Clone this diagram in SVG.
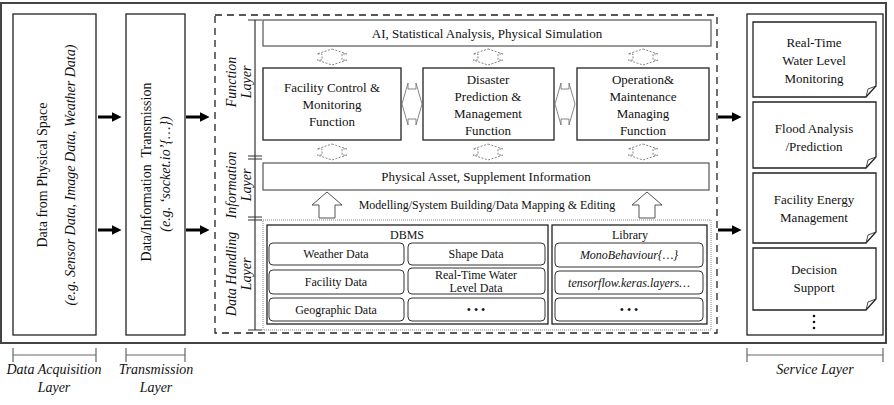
<svg xmlns="http://www.w3.org/2000/svg" width="894" height="405" viewBox="0 0 894 405">
<style>
text{font-family:"Liberation Serif","Times New Roman",serif;fill:#111;text-anchor:middle}
.t13{font-size:13px}
.t12{font-size:12px}
.t14{font-size:14px}
.it{font-style:italic}
.box{fill:#fff;stroke:#222;stroke-width:1.3}
.gbox{fill:#fff;stroke:#555;stroke-width:1.2}
.rr{fill:#fff;stroke:#333;stroke-width:1}
.dsh{fill:#fff;stroke:#777;stroke-width:0.9;stroke-dasharray:2 1.5}
.ha{fill:#fff;stroke:#777;stroke-width:0.9}
.big{fill:#fff;stroke:#555;stroke-width:1}
.arr{stroke:#000;stroke-width:3;fill:none;marker-end:url(#ah)}
.brk{stroke:#666;stroke-width:1.2;fill:none}
</style>
<defs>
<marker id="ah" markerWidth="4" markerHeight="4" refX="2" refY="2" orient="auto" markerUnits="strokeWidth">
<path d="M0,0.4 L3.2,2 L0,3.6 Z" fill="#000"/>
</marker>
<polygon id="vda" points="0,-8 15,-3 10,-3 10,3 15,3 0,8 -15,3 -10,3 -10,-3 -15,-3" class="dsh"/>
<polygon id="hda" points="-10,0 -4,-21 -4,-15 4,-15 4,-21 10,0 4,21 4,15 -4,15 -4,21" class="ha"/>
<polygon id="up" points="0,0 15,13 8,13 8,26 -8,26 -8,13 -15,13" class="big"/>
</defs>

<rect id="frame" x="1" y="3" width="885" height="340" fill="none" stroke="#444" stroke-width="2"/>

<g id="acq">
<rect x="13" y="14" width="83" height="321" class="box"/>
<text class="t14" transform="translate(47,175) rotate(-90)">Data from Physical Space</text>
<text class="t14 it" transform="translate(75,175) rotate(-90)">(e.g. Sensor Data, Image Data, Weather Data)</text>
</g>

<g id="trans">
<rect x="126" y="14" width="59" height="321" class="box"/>
<text class="t14" transform="translate(151,172) rotate(-90)" xml:space="preserve">Data/Information  Transmission</text>
<text class="t14 it" transform="translate(170,174) rotate(-90)">(e.g. ‘socket.io’{…})</text>
</g>

<g id="core">
<rect x="215" y="15" width="502" height="318" fill="none" stroke="#222" stroke-width="1.3" stroke-dasharray="7 5"/>
<g id="layer-bracket">
<line x1="255" y1="20" x2="255" y2="330" stroke="#333" stroke-width="1.2"/>
<line x1="248" y1="20" x2="262" y2="20" stroke="#333" stroke-width="1"/>
<line x1="248" y1="156" x2="262" y2="156" stroke="#333" stroke-width="1"/>
<line x1="248" y1="159" x2="262" y2="159" stroke="#333" stroke-width="1"/>
<line x1="248" y1="217" x2="262" y2="217" stroke="#333" stroke-width="1"/>
<line x1="248" y1="220" x2="262" y2="220" stroke="#333" stroke-width="1"/>
<line x1="248" y1="330" x2="262" y2="330" stroke="#333" stroke-width="1"/>
<text class="t14 it" transform="translate(236,82) rotate(-90)">Function</text>
<text class="t14 it" transform="translate(251,82) rotate(-90)">Layer</text>
<text class="t14 it" transform="translate(236,185) rotate(-90)">Information</text>
<text class="t14 it" transform="translate(251,185) rotate(-90)">Layer</text>
<text class="t14 it" transform="translate(236,274) rotate(-90)">Data Handling</text>
<text class="t14 it" transform="translate(251,274) rotate(-90)">Layer</text>
</g>

<g id="ai">
<rect x="263" y="20" width="448" height="26" class="gbox"/>
<text class="t13" x="487" y="38">AI, Statistical Analysis, Physical Simulation</text>
</g>
<g id="fn-facility">
<rect x="263" y="68" width="138" height="72" class="box"/>
<text class="t13" x="332" y="92">Facility Control &amp;</text>
<text class="t13" x="332" y="109">Monitoring</text>
<text class="t13" x="332" y="126">Function</text>
</g>
<g id="fn-disaster">
<rect x="423" y="68" width="131" height="72" class="box"/>
<text class="t13" x="488" y="84">Disaster</text>
<text class="t13" x="488" y="101">Prediction &amp;</text>
<text class="t13" x="488" y="118">Management</text>
<text class="t13" x="488" y="135">Function</text>
</g>
<g id="fn-om">
<rect x="577" y="68" width="132" height="72" class="box"/>
<text class="t13" x="643" y="84">Operation&amp;</text>
<text class="t13" x="643" y="101">Maintenance</text>
<text class="t13" x="643" y="118">Managing</text>
<text class="t13" x="643" y="135">Function</text>
</g>
<g id="asset">
<rect x="263" y="163" width="446" height="27" class="gbox"/>
<text class="t13" x="486" y="181">Physical Asset, Supplement Information</text>
</g>
<text class="t12" x="487" y="209">Modelling/System Building/Data Mapping &amp; Editing</text>

<g id="datahandling">
<rect x="263" y="220" width="448" height="110" fill="none" stroke="#888" stroke-width="1" stroke-dasharray="1 1"/>
<g id="dbms">
<rect x="267" y="225" width="281" height="99" class="box" stroke-width="1"/>
<text class="t12" x="407" y="239">DBMS</text>
<rect x="269" y="243" width="135" height="22" rx="4" class="rr"/>
<text class="t12" x="336" y="258">Weather Data</text>
<rect x="408" y="243" width="137" height="22" rx="4" class="rr"/>
<text class="t12" x="476" y="258">Shape Data</text>
<rect x="269" y="270" width="135" height="24" rx="4" class="rr"/>
<text class="t12" x="336" y="286">Facility Data</text>
<rect x="408" y="268" width="137" height="26" rx="4" class="rr"/>
<text class="t12" x="476" y="279">Real-Time Water</text>
<text class="t12" x="476" y="292">Level Data</text>
<rect x="269" y="298" width="135" height="23" rx="4" class="rr"/>
<text class="t12" x="336" y="314">Geographic Data</text>
<rect x="408" y="298" width="137" height="23" rx="4" class="rr"/>
<text class="t12" x="476" y="314">• • •</text>
</g>
<g id="library">
<rect x="552" y="225" width="155" height="99" class="box" stroke-width="1"/>
<text class="t12" x="630" y="239">Library</text>
<rect x="555" y="243" width="148" height="24" rx="4" class="rr"/>
<text class="t12 it" x="629" y="259">MonoBehaviour{…}</text>
<rect x="555" y="271" width="148" height="23" rx="4" class="rr"/>
<text class="t12 it" x="629" y="287">tensorflow.keras.layers…</text>
<rect x="555" y="298" width="148" height="23" rx="4" class="rr"/>
<text class="t12" x="629" y="314">• • •</text>
</g>
</g>
</g>

<g id="service">
<rect x="747" y="14" width="136" height="321" class="box"/>
<g id="svc1">
<path d="M753,22 H876 V86 L866,97 H753 Z" class="box" stroke-width="1"/>
<path d="M866,97 L868,89 L876,86" fill="none" stroke="#333" stroke-width="0.9"/>
<text class="t13" x="814" y="47">Real-Time</text>
<text class="t13" x="814" y="65">Water Level</text>
<text class="t13" x="814" y="83">Monitoring</text>
</g>
<g id="svc2">
<path d="M753,102 H876 V157 L866,168 H753 Z" class="box" stroke-width="1"/>
<path d="M866,168 L868,160 L876,157" fill="none" stroke="#333" stroke-width="0.9"/>
<text class="t13" x="814" y="133">Flood Analysis</text>
<text class="t13" x="814" y="151">/Prediction</text>
</g>
<g id="svc3">
<path d="M753,173 H876 V232 L866,243 H753 Z" class="box" stroke-width="1"/>
<path d="M866,243 L868,235 L876,232" fill="none" stroke="#333" stroke-width="0.9"/>
<text class="t13" x="814" y="204">Facility Energy</text>
<text class="t13" x="814" y="222">Management</text>
</g>
<g id="svc4">
<path d="M753,248 H876 V299 L866,310 H753 Z" class="box" stroke-width="1"/>
<path d="M866,310 L868,302 L876,299" fill="none" stroke="#333" stroke-width="0.9"/>
<text class="t13" x="814" y="274">Decision</text>
<text class="t13" x="814" y="292">Support</text>
</g>
<g fill="#111">
<circle cx="814" cy="316" r="1.3"/>
<circle cx="814" cy="322" r="1.3"/>
<circle cx="814" cy="328" r="1.3"/>
</g>
</g>

<g id="connectors">
<line x1="98" y1="117" x2="118" y2="117" class="arr"/>
<line x1="98" y1="230" x2="118" y2="230" class="arr"/>
<line x1="186" y1="117" x2="206" y2="117" class="arr"/>
<line x1="186" y1="230" x2="206" y2="230" class="arr"/>
<line x1="718" y1="117" x2="738" y2="117" class="arr"/>
<line x1="718" y1="230" x2="738" y2="230" class="arr"/>
<use href="#vda" x="332" y="57"/>
<use href="#vda" x="488" y="57"/>
<use href="#vda" x="643" y="57"/>
<use href="#vda" x="332" y="152"/>
<use href="#vda" x="488" y="152"/>
<use href="#vda" x="643" y="152"/>
<use href="#hda" x="412" y="104"/>
<use href="#hda" x="565" y="104"/>
<use href="#up" x="327" y="192"/>
<use href="#up" x="647" y="192"/>
</g>

<g id="bottom-labels">
<path d="M13,355 H96 M13,348 V362 M96,348 V362" class="brk"/>
<text class="t14 it" x="54" y="374">Data Acquisition</text>
<text class="t14 it" x="54" y="392">Layer</text>
<path d="M126,355 H185 M126,348 V362 M185,348 V362" class="brk"/>
<text class="t14 it" x="156" y="374">Transmission</text>
<text class="t14 it" x="156" y="392">Layer</text>
<path d="M747,355 H883 M747,348 V362 M883,348 V362" class="brk"/>
<text class="t14 it" x="815" y="374">Service Layer</text>
</g>
</svg>
